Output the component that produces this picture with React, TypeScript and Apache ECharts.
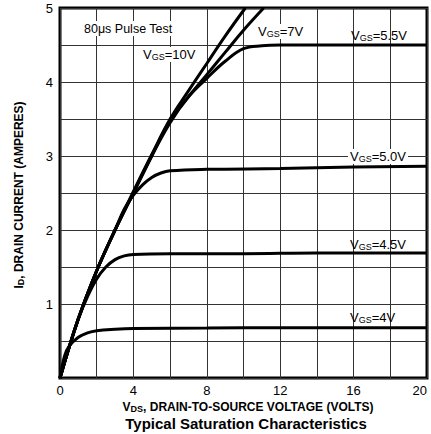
import React, { useEffect, useRef } from "react";
import * as echarts from "echarts";

const vgs4V = [0, 0.25, 0.5, 1, 1.5, 2, 3, 4, 8, 12, 16, 20];
const vgs4I = [0, 0.3, 0.43, 0.55, 0.61, 0.64, 0.66, 0.67, 0.675, 0.68, 0.68, 0.68];

const vgs45V = [0, 0.5, 1, 1.5, 2, 2.5, 3, 3.5, 4, 6, 10, 14, 20];
const vgs45I = [0, 0.42, 0.8, 1.1, 1.34, 1.5, 1.6, 1.65, 1.67, 1.68, 1.68, 1.69, 1.69];

const vgs50V = [0, 1, 2, 3, 3.5, 4, 4.5, 5, 5.5, 6, 8, 12, 16, 20];
const vgs50I = [0, 0.8, 1.45, 2.0, 2.28, 2.47, 2.61, 2.71, 2.77, 2.8, 2.82, 2.83, 2.85, 2.86];

const vgs55V = [0, 1, 2, 3, 4, 5, 6, 7, 8, 9, 10, 11, 12, 16, 20];
const vgs55I = [0, 0.8, 1.45, 2.0, 2.5, 3.0, 3.45, 3.8, 4.05, 4.28, 4.45, 4.49, 4.5, 4.5, 4.5];

const vgs7V = [0, 1, 2, 3, 4, 5, 6, 7, 8, 9, 10, 11.1];
const vgs7I = [0, 0.8, 1.45, 2.0, 2.5, 3.0, 3.48, 3.8, 4.1, 4.4, 4.7, 5.0];

const vgs10V = [0, 1, 2, 3, 4, 5, 6, 7, 8, 9, 10.1];
const vgs10I = [0, 0.8, 1.45, 2.0, 2.52, 3.02, 3.5, 3.88, 4.25, 4.62, 5.0];

const xTicks = [0, 4, 8, 12, 16, 20];
const yTicks = [1, 2, 3, 4, 5];

const FONT = "Liberation Sans, Arial, Helvetica, sans-serif";

function pairs(xs: number[], ys: number[]) {
  return xs.map((x, i) => [x, ys[i]]);
}

function vgsLabel(value: string, x: number, y: number, bg = false) {
  return {
    type: "text",
    left: x,
    top: y,
    z: 100,
    style: {
      text: "{v|V}{s|GS}{v|=" + value + "}",
      backgroundColor: bg ? "#fff" : undefined,
      padding: bg ? [0, 2, 0, 2] : 0,
      rich: {
        v: { fontSize: 13, fontFamily: FONT, fill: "#000", lineHeight: 15 },
        s: { fontSize: 9, fontFamily: FONT, fill: "#000", padding: [5, 0, 0, 0], lineHeight: 15 },
      },
    },
  };
}

export default function App() {
  const ref = useRef<HTMLDivElement>(null);
  useEffect(() => {
    if (!ref.current) return;
    const chart = echarts.init(ref.current, null, { renderer: "svg" });
    const lineStyle = { color: "#000", width: 3 };
    const mk = (name: string, xs: number[], ys: number[]) => ({
      name,
      type: "line",
      data: pairs(xs, ys),
      smooth: 0.4,
      showSymbol: false,
      symbol: "none",
      lineStyle,
      z: 10,
      clip: true,
    });
    chart.setOption({
      animation: false,
      backgroundColor: "#fff",
      grid: {
        left: 60,
        right: 4,
        top: 8,
        bottom: 56,
        show: true,
        borderColor: "#000",
        borderWidth: 3,
        backgroundColor: "transparent",
        outerBoundsMode: "none",
        containLabel: false,
      },
      xAxis: {
        type: "value",
        min: 0,
        max: 20,
        interval: 2,
        axisLine: { show: false },
        axisTick: { show: false },
        splitLine: { show: true, lineStyle: { color: "#333", width: 1 } },
        axisLabel: {
          color: "#000",
          fontSize: 13,
          fontFamily: FONT,
          margin: 6,
          alignMaxLabel: "right",
          formatter: (v: number) => (xTicks.includes(v) ? String(v) : ""),
        },
      },
      yAxis: {
        type: "value",
        min: 0,
        max: 5,
        interval: 0.5,
        axisLine: { show: false },
        axisTick: { show: false },
        splitLine: { show: true, lineStyle: { color: "#333", width: 1 } },
        axisLabel: {
          color: "#000",
          fontSize: 13,
          fontFamily: FONT,
          margin: 7,
          formatter: (v: number) => (yTicks.includes(v) ? String(v) : ""),
        },
      },
      series: [
        mk("4V", vgs4V, vgs4I),
        mk("4.5V", vgs45V, vgs45I),
        mk("5.0V", vgs50V, vgs50I),
        mk("5.5V", vgs55V, vgs55I),
        mk("7V", vgs7V, vgs7I),
        mk("10V", vgs10V, vgs10I),
      ],
      graphic: [
        {
          type: "text",
          left: 82,
          top: 21,
          z: 100,
          style: {
            text: "80\u03bcs Pulse Test",
            fontSize: 12.5,
            fontFamily: FONT,
            fill: "#000",
            backgroundColor: "#fff",
            padding: [1, 2, 1, 2],
          },
        },
        vgsLabel("10V", 141, 47, true),
        vgsLabel("7V", 256, 24, true),
        vgsLabel("5.5V", 351, 28, false),
        vgsLabel("5.0V", 348, 149, true),
        vgsLabel("4.5V", 350, 237, false),
        vgsLabel("4V", 350, 310, false),
        {
          type: "text",
          x: 248,
          y: 407,
          z: 100,
          style: {
            text: "{b|V}{s|DS}{b|, DRAIN-TO-SOURCE VOLTAGE (VOLTS)}",
            align: "center",
            verticalAlign: "middle",
            rich: {
              b: { fontSize: 12, fontWeight: "bold", fontFamily: FONT, fill: "#000", lineHeight: 14 },
              s: { fontSize: 9, fontWeight: "bold", fontFamily: FONT, fill: "#000", padding: [4, 0, 0, 0], lineHeight: 14 },
            },
          },
        },
        {
          type: "text",
          x: 246,
          y: 423,
          z: 100,
          style: {
            text: "Typical Saturation Characteristics",
            align: "center",
            verticalAlign: "middle",
            fontSize: 15,
            fontWeight: "bold",
            fontFamily: FONT,
            fill: "#000",
          },
        },
        {
          type: "text",
          x: 19,
          y: 195,
          rotation: Math.PI / 2,
          z: 100,
          style: {
            text: "{b|I}{s|D}{b|, DRAIN CURRENT (AMPERES)}",
            align: "center",
            verticalAlign: "middle",
            rich: {
              b: { fontSize: 12, fontWeight: "bold", fontFamily: FONT, fill: "#000", lineHeight: 14 },
              s: { fontSize: 9, fontWeight: "bold", fontFamily: FONT, fill: "#000", padding: [4, 0, 0, 0], lineHeight: 14 },
            },
          },
        },
      ],
    });
    return () => chart.dispose();
  }, []);
  return <div ref={ref} style={{ width: 431, height: 434, position: "absolute", left: 0, top: 0 }} />;
}
